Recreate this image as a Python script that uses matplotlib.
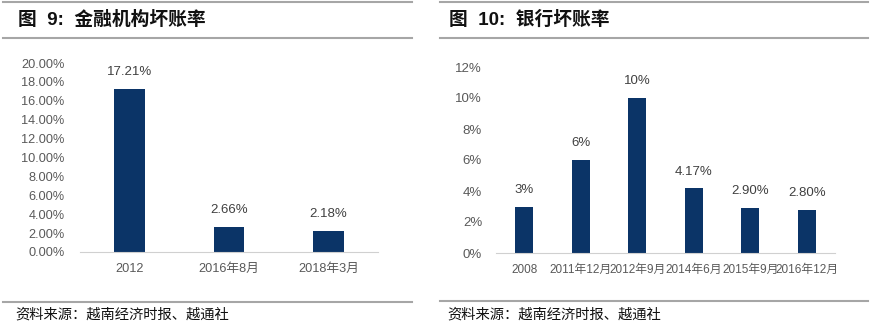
import matplotlib
matplotlib.use('Agg')
import matplotlib.pyplot as plt
from matplotlib.lines import Line2D
from matplotlib.ticker import FuncFormatter

plt.rcParams['font.family'] = ['Liberation Sans', 'Noto Sans CJK SC', 'DejaVu Sans']

# left chart: financial institutions bad debt ratio
fin_cats = ['2012', '2016年8月', '2018年3月']
fin_vals = [17.21, 2.66, 2.18]
fin_labels = ['17.21%', '2.66%', '2.18%']

# right chart: bank bad debt ratio
bank_cats = ['2008', '2011年12月', '2012年9月', '2014年6月', '2015年9月', '2016年12月']
bank_vals = [3, 6, 10, 4.17, 2.90, 2.80]
bank_labels = ['3%', '6%', '10%', '4.17%', '2.90%', '2.80%']

BAR = '#0b3467'
GRAY = '#595959'
W, H = 876, 326

fig = plt.figure(figsize=(W / 100, H / 100), dpi=100)


def fx(px):
    return px / W


def fy(py):
    return 1 - py / H


def hline(x0, x1, y, color='#a6a6a6', lw=1.5):
    fig.add_artist(Line2D([fx(x0), fx(x1)], [fy(y), fy(y)], color=color, lw=lw,
                          transform=fig.transFigure))


def setup(ax, ymax, step, fmt, fs):
    ax.set_ylim(0, ymax)
    ax.set_yticks([i * step for i in range(int(round(ymax / step)) + 1)])
    ax.yaxis.set_major_formatter(FuncFormatter(fmt))
    for s in ['top', 'right', 'left']:
        ax.spines[s].set_visible(False)
    ax.spines['bottom'].set_color('#d0d0d0')
    ax.tick_params(axis='both', length=0, colors=GRAY, labelsize=fs)


# ---- left panel ----
hline(3, 412, 2)
hline(3, 412, 38)
hline(3, 412, 302)
fig.text(fx(18), fy(20), '图  9:  金融机构坏账率', fontsize=13.5, fontweight='bold',
         va='center', ha='left', color='#111111')
fig.text(fx(15), fy(315), '资料来源：越南经济时报、越通社', fontsize=10.3,
         va='center', ha='left', color='#111111')

ax1 = fig.add_axes([fx(80), fy(252), fx(378 - 80), (252 - 63) / H])
x1 = range(len(fin_cats))
ax1.bar(x1, fin_vals, width=0.31, color=BAR)
ax1.set_xlim(-0.5, len(fin_cats) - 0.5)
setup(ax1, 20, 2, lambda v, p: '{:.2f}%'.format(v), 9.2)
ax1.tick_params(axis='y', pad=11)
ax1.set_xticks(list(x1))
ax1.set_xticklabels(fin_cats)
ax1.tick_params(axis='x', pad=8)
for xi, v, lab in zip(x1, fin_vals, fin_labels):
    ax1.text(xi, v + 1.2, lab, ha='center', va='bottom', fontsize=9.5, color='#404040')

# ---- right panel ----
hline(440, 868, 2)
hline(440, 868, 38)
hline(440, 868, 301)
fig.text(fx(449), fy(20), '图  10:  银行坏账率', fontsize=13.5, fontweight='bold',
         va='center', ha='left', color='#111111')
fig.text(fx(447), fy(315), '资料来源：越南经济时报、越通社', fontsize=10.3,
         va='center', ha='left', color='#111111')

ax2 = fig.add_axes([fx(496), fy(253), fx(835 - 496), (253 - 67) / H])
x2 = range(len(bank_cats))
ax2.bar(x2, bank_vals, width=0.32, color=BAR)
ax2.set_xlim(-0.5, len(bank_cats) - 0.5)
setup(ax2, 12, 2, lambda v, p: '{:.0f}%'.format(v), 9.5)
ax2.tick_params(axis='y', pad=10)
ax2.set_xticks(list(x2))
ax2.set_xticklabels(bank_cats, fontsize=8.5)
ax2.tick_params(axis='x', pad=8)
for xi, v, lab in zip(x2, bank_vals, bank_labels):
    ax2.text(xi, v + 0.7, lab, ha='center', va='bottom', fontsize=9.5, color='#404040')

fig.savefig('out.png', dpi=100, facecolor='white')
